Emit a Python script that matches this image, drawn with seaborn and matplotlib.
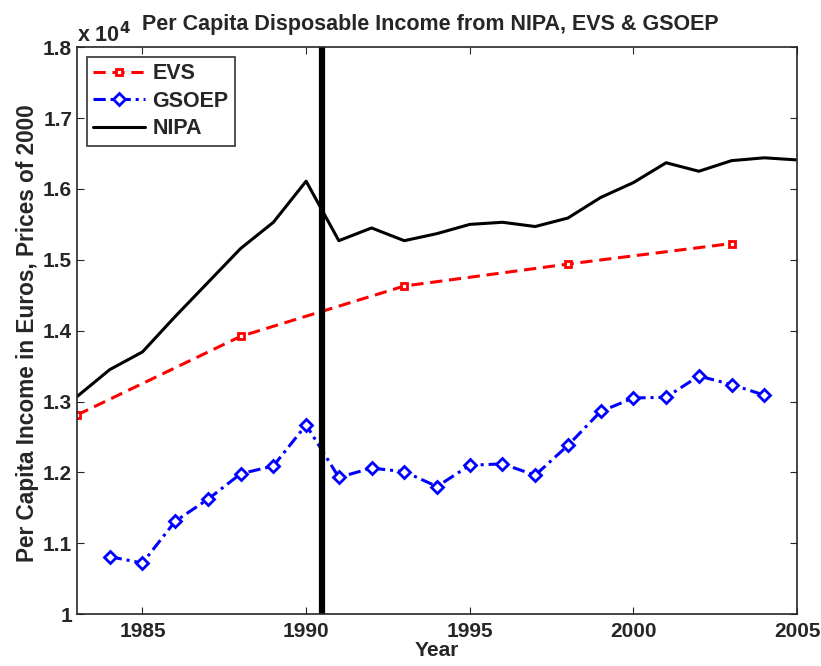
import numpy as np
import pandas as pd
import seaborn as sns
import matplotlib
matplotlib.use("Agg")
import matplotlib.pyplot as plt
from matplotlib.ticker import FuncFormatter

# values (euros, prices of 2000)
nipa_years = list(range(1983, 2006))
nipa = [13070, 13450, 13700, 14200, 14680, 15160, 15530, 16110, 15270, 15450,
        15270, 15370, 15500, 15530, 15470, 15590, 15880, 16090, 16370, 16250,
        16400, 16440, 16410]
evs_years = [1983, 1988, 1993, 1998, 2003]
evs = [12810, 13920, 14630, 14940, 15230]
gsoep_years = list(range(1984, 2005))
gsoep = [10810, 10720, 11310, 11620, 11980, 12090, 12670, 11930, 12060, 12010,
         11800, 12100, 12120, 11960, 12380, 12860, 13050, 13060, 13360, 13240,
         13090]
break_year = 1990.5

sns.set_style("ticks")
plt.rcParams["font.family"] = ["Liberation Sans", "DejaVu Sans"]
plt.rcParams["font.weight"] = "bold"

fig = plt.figure(figsize=(8.21, 6.66), dpi=100)
ax = fig.add_axes([0.0938, 0.078, 0.877, 0.851])

sns.lineplot(x=evs_years, y=evs, ax=ax, color="red", linestyle=(0, (4, 2.2)),
             linewidth=2.2, marker="s", markersize=5, markerfacecolor="white",
             markeredgecolor="red", markeredgewidth=2, label="EVS")
sns.lineplot(x=gsoep_years, y=gsoep, ax=ax, color="blue", linestyle=(0, (4, 1.6, 1, 1.6)),
             linewidth=2.2, marker="D", markersize=6, markerfacecolor="white",
             markeredgecolor="blue", markeredgewidth=2, label="GSOEP")
sns.lineplot(x=nipa_years, y=nipa, ax=ax, color="black", linewidth=2.2, label="NIPA")
ax.axvline(break_year, color="black", linewidth=4.5)

ax.set_xlim(1983, 2005)
ax.set_ylim(10000, 18000)
ax.set_xticks([1985, 1990, 1995, 2000, 2005])
ax.set_yticks(np.arange(10000, 18001, 1000))
ax.yaxis.set_major_formatter(FuncFormatter(lambda v, p: f"{v/1e4:g}"))
ax.tick_params(direction="in", top=True, right=True, labelsize=15, length=5,
               width=0.8)
ax.tick_params(axis="x", pad=6)
ax.tick_params(axis="y", pad=3.5)
for lab in ax.get_xticklabels() + ax.get_yticklabels():
    lab.set_fontweight("bold")
for s in ax.spines.values():
    s.set_linewidth(1.2)

ax.text(0.0, 1.0, r"x 10$^{4}$", transform=ax.transAxes, fontsize=15.5,
        fontweight="bold", ha="left", va="bottom")
ax.text(0.49, 1.022, "Per Capita Disposable Income from NIPA, EVS & GSOEP",
        transform=ax.transAxes, fontsize=15.5, fontweight="bold",
        ha="center", va="bottom")
ax.set_xlabel("Year", fontsize=15, fontweight="bold", labelpad=0)
ax.set_ylabel("Per Capita Income in Euros, Prices of 2000", fontsize=16.3,
              fontweight="bold")
ax.yaxis.set_label_coords(-0.053, 0.496)

leg = ax.legend(loc="upper left", fontsize=15.5, frameon=True, fancybox=False,
                handlelength=2.4, handletextpad=0.35, borderpad=0.3,
                labelspacing=0.3, borderaxespad=0.45)
leg.get_frame().set_edgecolor("black")
leg.get_frame().set_linewidth(1.2)
for t in leg.get_texts():
    t.set_fontweight("bold")

fig.savefig("out.png", dpi=100)
